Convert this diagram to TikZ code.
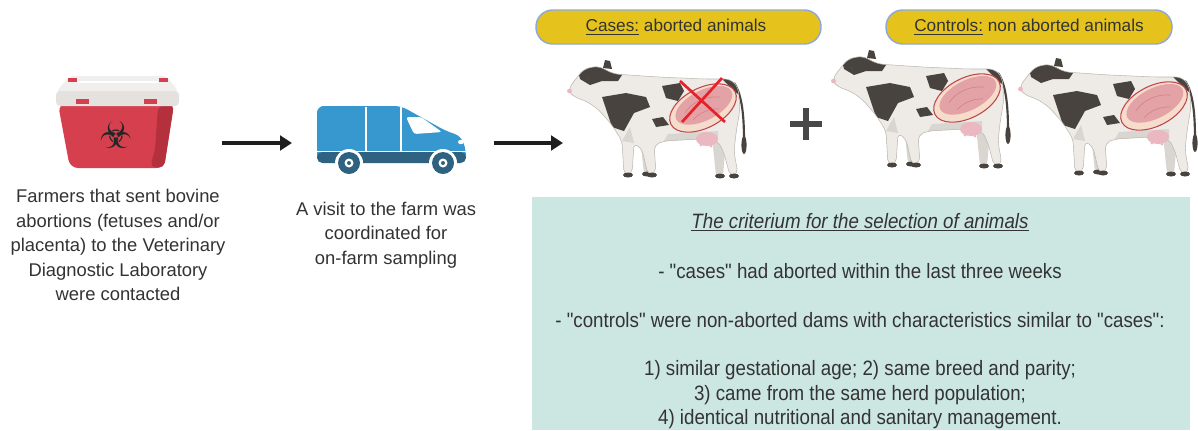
\documentclass[tikz,border=0pt]{standalone}
\usepackage{fontspec}
\setmainfont{Liberation Sans}
\newfontfamily\condfont[FakeStretch=0.9]{Liberation Sans}
\newfontfamily\symfont{DejaVu Sans}
\usetikzlibrary{arrows.meta}

\definecolor{ink}{HTML}{333333}
\definecolor{arrowink}{HTML}{1E1E1E}
\definecolor{binred}{HTML}{D6404E}
\definecolor{binshade}{HTML}{B5303D}
\definecolor{lidgray}{HTML}{E4E1DE}
\definecolor{lidtop}{HTML}{F1EFED}
\definecolor{vanblue}{HTML}{3797CF}
\definecolor{vandark}{HTML}{2F6280}
\definecolor{pillfill}{HTML}{E6C31C}
\definecolor{pilledge}{HTML}{8EA9D8}
\definecolor{boxteal}{HTML}{CCE6E1}
\definecolor{cowwhite}{HTML}{EEEBE7}
\definecolor{cowshade}{HTML}{D9D5D0}
\definecolor{cowedge}{HTML}{BDB7B0}
\definecolor{cowdark}{HTML}{48433E}
\definecolor{uterusout}{HTML}{F6DCCB}
\definecolor{uterusin}{HTML}{E3A2A6}
\definecolor{uterusedge}{HTML}{C0464E}
\definecolor{udderpink}{HTML}{EBB7C0}
\definecolor{crossred}{HTML}{E8202A}
\definecolor{plusgray}{HTML}{484848}

% outline of the cow's body, local coordinates in px (y pointing down)
\newcommand{\cowoutline}{(0,33) -- (6,24) -- (16,12) -- (30,9) -- (46,17) -- (90,20) -- (136,22)
  -- (162,22) -- (170,30) -- (172,52) -- (168,76) -- (166,95) -- (170,117) -- (162,119)
  -- (156,96) -- (150,84) -- (132,82) -- (96,84) -- (86,88) -- (88,116) -- (80,118)
  -- (74,92) -- (66,86) -- (64,117) -- (56,118) -- (54,84) -- (44,68) -- (30,52)
  -- (18,44) -- (6,40) -- cycle}

\tikzset{
  lefttext/.style={font=\fontsize{13.8}{18.4}\selectfont, text=ink, align=center, inner sep=0},
  boxtext/.style={font=\condfont\fontsize{15.6}{18.4}\selectfont, text=ink, inner sep=0},
  pilltext/.style={font=\fontsize{12.9}{15}\selectfont, text=ink, inner sep=0},
  pill/.style={fill=pillfill, draw=pilledge, line width=1.1pt, rounded corners=12.5pt},
  flowarrow/.style={draw=arrowink, line width=2.3pt, -{Triangle[length=9pt,width=11pt]}},
  cow/.pic={
    % tail
    \draw[cowdark, line width=1.6pt] (166,26) .. controls (176,40) and (176,70) .. (176,88);
    \fill[cowdark] (176,88) ellipse (2.6 and 9);
    % far legs
    \fill[cowshade, rounded corners=3] (72,80) -- (76,117) -- (83,117) -- (84,85) -- cycle;
    \fill[cowshade, rounded corners=3] (144,80) -- (148,119) -- (155,119) -- (158,85) -- cycle;
    \fill[cowdark] (79,117) ellipse (5 and 2.5);
    \fill[cowdark] (152,119) ellipse (5 and 2.5);
    % body
    \path[fill=cowwhite, rounded corners=4] \cowoutline;
    \begin{scope}
      \clip[rounded corners=4] \cowoutline;
      \fill[cowdark] (10,14) -- (30,4) -- (56,15) -- (50,24) -- (34,24) -- (22,28) -- (12,22) -- cycle;
      \fill[cowdark] (34,40) -- (58,36) -- (78,40) -- (82,50) -- (66,56) -- (56,74) -- (44,70) -- cycle;
      \fill[cowdark] (94,29) -- (112,26) -- (116,34) -- (110,44) -- (98,41) -- cycle;
      \fill[cowdark] (84,62) -- (95,60) -- (101,68) -- (88,70) -- cycle;
      \fill[cowdark] (148,16) -- (178,18) -- (178,44) -- (164,32) -- cycle;
      \fill[cowshade] (96,84) -- (150,84) -- (150,74) -- (100,77) -- cycle;
      \fill[cowshade] (54,84) -- (66,86) -- (62,70) -- cycle;
    \end{scope}
    \draw[cowedge, line width=0.4pt, rounded corners=4] \cowoutline;
    % ear, eye and nose
    \fill[cowdark] (35,11) -- (37,3) -- (42,4) -- (44,12) -- cycle;
    \fill[udderpink] (1.5,34) circle (2.4);
    \fill[black!70] (20,21) circle (1.1);
    % hooves
    \fill[cowdark] (60,118) ellipse (5 and 2.5);
    \fill[cowdark] (84,118) ellipse (5 and 2.5);
    \fill[cowdark] (166,119) ellipse (5 and 2.5);
    % udder
    \fill[udderpink] (139,82) ellipse (11 and 7);
    \fill[udderpink] (133,88) circle (1.6);
    \fill[udderpink] (143,89) circle (1.6);
    % opened uterus with the calf inside
    \begin{scope}[shift={(135,51)}, rotate=27]
      \filldraw[fill=uterusout, draw=uterusedge, line width=0.8pt] (0,0) ellipse (36 and 20);
      \fill[uterusin] (2,-2) ellipse (31 and 15);
      \draw[uterusedge!70, line width=0.4pt] (-18,-4) .. controls (-8,-10) and (8,-10) .. (20,-2);
      \draw[uterusedge!70, line width=0.4pt] (-14,6) .. controls (-4,2) and (6,4) .. (14,8);
    \end{scope}
  }
}

\begin{document}
\begin{tikzpicture}[x=0.75pt, y=-0.75pt]
  \useasboundingbox (0,0) rectangle (1198,430);
  \fill[white] (0,0) rectangle (1198,430);

  % ---- sample container ----
  \begin{scope}
    \fill[binred, rounded corners=6] (58,104) -- (174,104) -- (164,168) -- (70,168) -- cycle;
    \fill[binshade, rounded corners=4] (158,106) -- (174,104) -- (164,168) -- (150,167) -- (155,150) -- cycle;
    \fill[lidtop, rounded corners=3] (70,76) -- (166,76) -- (179,92) -- (56,92) -- cycle;
    \fill[lidgray, rounded corners=3] (56,91) rectangle (179,106);
    \draw[white, line width=0.8pt] (78,82) -- (158,82);
    \fill[binred] (68,78) rectangle (77,82);
    \fill[binred] (159,78) rectangle (168,82);
    \fill[binred] (76,99) rectangle (89,104);
    \fill[binred] (144,99) rectangle (157,104);
    \node (bin) at (116,135) {\symfont\fontsize{28}{28}\selectfont\textcolor{black!85}{☣}};
  \end{scope}

  % ---- van ----
  \begin{scope}
    \fill[vanblue, rounded corners=5] (317,106) -- (401,106) -- (446,131) -- (461,136) -- (466,150) -- (466,162) -- (317,162) -- cycle;
    \fill[vandark, rounded corners=4] (317,152) rectangle (466,163);
    \draw[white, line width=0.9pt] (366,107) -- (366,151);
    \draw[white, line width=0.9pt] (401,107) -- (401,151);
    \draw[white, line width=0.8pt] (317,151.5) -- (466,151.5);
    \fill[white, rounded corners=2] (406,117) -- (421,117) -- (442,132) -- (414,134) -- cycle;
    \fill[white] (461,142) ellipse (3 and 2.2);
    \foreach \wx in {349,443}{
      \fill[white] (\wx,163) circle (14);
      \fill[vandark] (\wx,163) circle (11);
      \fill[white] (\wx,163) circle (4.5);
      \fill[vandark] (\wx,163) circle (2);
    }
    \node[inner sep=0] (van) at (391,134) {};
  \end{scope}

  % ---- flow arrows ----
  \coordinate (arrAstart) at (222,143);
  \coordinate (arrAend) at (292,143);
  \coordinate (arrBstart) at (494,143);
  \coordinate (arrBend) at (563,143);
  \draw[flowarrow] (arrAstart) -- (arrAend);
  \draw[flowarrow] (arrBstart) -- (arrBend);

  % ---- captions ----
  \node[lefttext] (farmers) at (118,245) {Farmers that sent bovine\\abortions (fetuses and/or\\placenta) to the Veterinary\\Diagnostic Laboratory\\were contacted};
  \node[lefttext] (visit) at (386,235) {A visit to the farm was\\coordinated for\\on-farm sampling};

  % ---- groups ----
  \draw[pill] (536,10) rectangle (821,44);
  \node[pilltext] (cases) at (676,27) {\underline{Cases:} aborted animals};
  \draw[pill] (886,10) rectangle (1172,44);
  \node[pilltext] (controls) at (1029,27) {\underline{Controls:} non aborted animals};

  % ---- cows ----
  \pic at (568,57) {cow};
  \pic at (832,47) {cow};
  \pic at (1019,55) {cow};
  \draw[crossred, line width=2pt] (680,81) -- (725,122);
  \draw[crossred, line width=2pt] (722,78) -- (682,122);
  \draw[plusgray, line width=4.5pt] (790,124) -- (822,124);
  \draw[plusgray, line width=4.5pt] (806,108) -- (806,140);

  % ---- selection criteria ----
  \fill[boxteal] (532,197) rectangle (1190,430);
  \node[boxtext] (crit) at (860,222) {\underline{\itshape The criterium for the selection of animals}};
  \node[boxtext] (crA) at (860,271) {- "cases" had aborted within the last three weeks};
  \node[boxtext] (crB) at (860,320) {- "controls" were non-aborted dams with characteristics similar to "cases":};
  \node[boxtext] (crC) at (860,370) {1) similar gestational age; 2) same breed and parity;};
  \node[boxtext] (crD) at (860,395) {3) came from the same herd population;};
  \node[boxtext] (crE) at (860,419) {4) identical nutritional and sanitary management.};
\end{tikzpicture}
\end{document}
